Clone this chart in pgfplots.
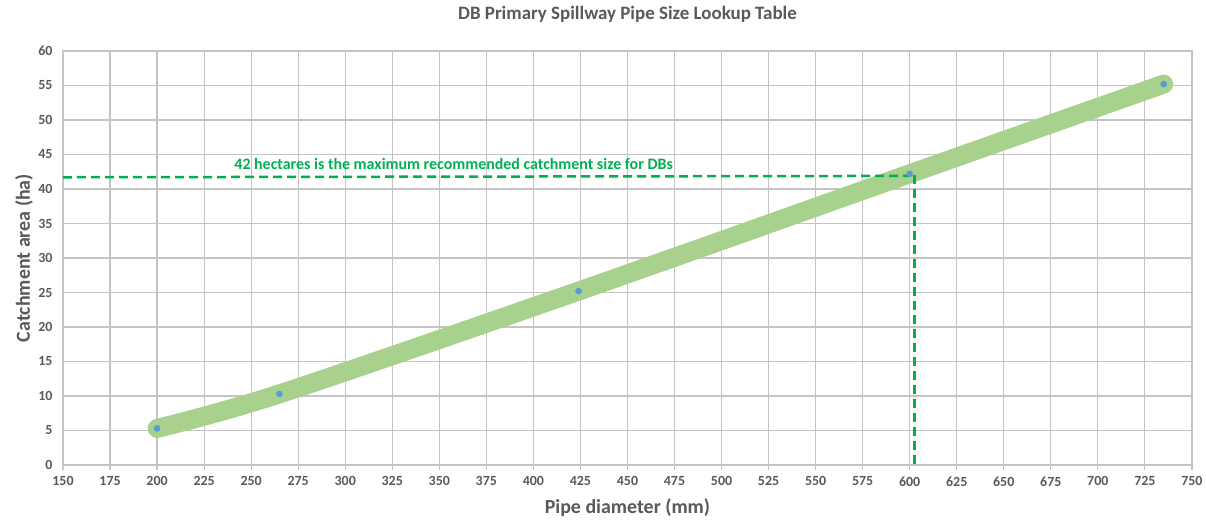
\documentclass[border=0pt]{standalone}
\usepackage{fontspec}
\setmainfont{Carlito}
\usepackage{pgfplots}
\pgfplotsset{compat=1.18}
\definecolor{txtgray}{HTML}{595959}
\definecolor{gridgray}{HTML}{C4C4C4}
\definecolor{lightgreen}{HTML}{A9D18E}
\definecolor{dbgreen}{HTML}{00B050}
\definecolor{ptblue}{HTML}{5B9BD5}
\begin{document}
\begin{tikzpicture}
\useasboundingbox (-63bp,-55bp) rectangle (1143bp,465bp);
\begin{axis}[
    scale only axis,
    width=1129bp, height=414bp,
    xmin=150, xmax=750, ymin=0, ymax=60,
    xtick distance=25, ytick distance=5,
    grid=major,
    grid style={color=gridgray, line width=1.2bp},
    axis line style={color=gridgray, line width=1.2bp},
    tick align=outside,
    major tick length=5bp,
    xtick pos=bottom, ytick pos=left,
    x tick style={color=gridgray, line width=1.2bp},
    y tick style={draw=none},
    ticklabel style={font=\fontsize{14}{14}\selectfont\bfseries, text=txtgray},
    /pgf/number format/assume math mode=true,
    xticklabel style={yshift=-3bp},
    yticklabel style={xshift=-2bp},
    title={DB Primary Spillway Pipe Size Lookup Table},
    title style={at={(axis description cs:0.5,1)}, anchor=center, yshift=31bp,
        font=\fontsize{19}{19}\selectfont\bfseries, text=txtgray},
    xlabel={Pipe diameter (mm)},
    ylabel={Catchment area (ha)},
    every axis x label/.style={at={(axis description cs:0.5,0)}, anchor=center, yshift=-43bp,
        font=\fontsize{20}{20}\selectfont\bfseries, text=txtgray},
    every axis y label/.style={at={(axis description cs:0,0.5)}, anchor=center, xshift=-39bp, rotate=90,
        font=\fontsize{20}{20}\selectfont\bfseries, text=txtgray},
]
% thick smoothed curve
\addplot[color=lightgreen, line width=19bp, line cap=round, smooth, tension=0.5] coordinates {
    (200,5.3) (265,10.3) (424,25.2) (600,42.2) (735,55.2)
};
% data points
\addplot[only marks, mark=*, mark size=3.1bp, color=ptblue] coordinates {
    (200,5.3) (265,10.3) (424,25.2) (600,42.2) (735,55.2)
};
% 42 ha guide lines
\addplot[color=dbgreen, line width=2.5bp, dash pattern=on 9bp off 5bp] coordinates {
    (150,41.7) (600,41.9)
};
\addplot[color=dbgreen, line width=2.5bp, dash pattern=on 9bp off 5bp] coordinates {
    (602.5,42) (602.5,0)
};
\node[anchor=west, text=dbgreen, font=\fontsize{16}{16}\selectfont\bfseries, inner sep=0pt]
    at (axis cs:241,43.6) {42 hectares is the maximum recommended catchment size for DBs};
\end{axis}
\end{tikzpicture}
\end{document}
